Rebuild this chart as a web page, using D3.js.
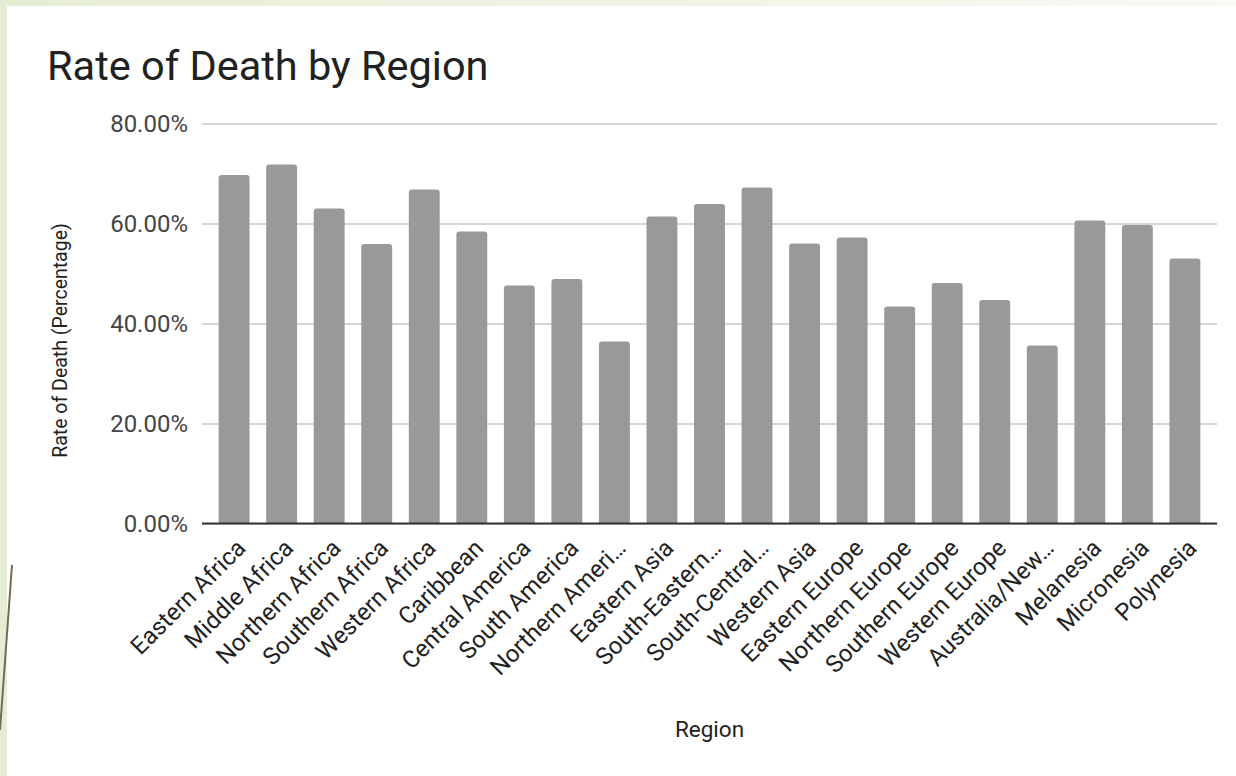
<!DOCTYPE html>
<html>
<head>
<meta charset="utf-8">
<script src="https://cdn.jsdelivr.net/npm/d3@7"></script>
<style>
  html, body { margin: 0; padding: 0; background: #e6edd5; }
  svg { display: block; }
</style>
</head>
<body>
<div id="chart"></div>
<script>
// data
const regions = [
  "Eastern Africa", "Middle Africa", "Northern Africa", "Southern Africa", "Western Africa",
  "Caribbean", "Central America", "South America", "Northern Ameri…", "Eastern Asia",
  "South-Eastern…", "South-Central…", "Western Asia", "Eastern Europe", "Northern Europe",
  "Southern Europe", "Western Europe", "Australia/New…", "Melanesia", "Micronesia", "Polynesia"
];
const deathRates = [
  0.697, 0.718, 0.630, 0.559, 0.668,
  0.584, 0.476, 0.489, 0.364, 0.614,
  0.639, 0.672, 0.560, 0.572, 0.434,
  0.481, 0.447, 0.356, 0.606, 0.597, 0.530
];
const yTicks = [0, 0.2, 0.4, 0.6, 0.8];

const width = 1236;
const height = 776;
const margin = { top: 123.5, right: 19, bottom: 252.5, left: 202 };

const data = regions.map((r, i) => ({ region: r, rate: deathRates[i] }));

const svg = d3.select("#chart")
  .append("svg")
  .attr("width", width)
  .attr("height", height);

// slide background + white card
const grad = svg.append("defs").append("linearGradient").attr("id", "topStrip");
grad.append("stop").attr("offset", "0%").attr("stop-color", "#e6edd5");
grad.append("stop").attr("offset", "100%").attr("stop-color", "#f8faf3");

svg.append("rect").attr("width", width).attr("height", height).attr("fill", "#e6edd5");
svg.append("rect").attr("x", 0).attr("y", 0).attr("width", width).attr("height", 6).attr("fill", "url(#topStrip)");
svg.append("rect")
  .attr("x", 7).attr("y", 6)
  .attr("width", width - 7).attr("height", height - 6)
  .attr("fill", "#ffffff");
svg.append("line")
  .attr("x1", 12).attr("y1", 565).attr("x2", 0).attr("y2", 730)
  .attr("stroke", "#736d52").attr("stroke-width", 2);

const x = d3.scaleBand()
  .domain(regions)
  .range([margin.left, width - margin.right])
  .paddingInner(0.35)
  .paddingOuter(0.35);

const y = d3.scaleLinear()
  .domain([0, 0.8])
  .range([height - margin.bottom, margin.top]);

// gridlines + y labels
const yAxis = svg.append("g")
  .attr("transform", `translate(${margin.left},0)`)
  .call(d3.axisLeft(y)
    .tickValues(yTicks)
    .tickSize(-(width - margin.left - margin.right))
    .tickPadding(14)
    .tickFormat(d3.format(".2%")));

yAxis.select(".domain").remove();
yAxis.selectAll(".tick line")
  .attr("stroke", "#d6d6d6")
  .attr("stroke-width", 2);
yAxis.selectAll(".tick text")
  .attr("fill", "#444")
  .attr("font-family", "Roboto, sans-serif")
  .attr("font-size", 24);

// bars, top corners rounded
const r = 3;
svg.append("g")
  .selectAll("path")
  .data(data)
  .join("path")
  .attr("fill", "#999999")
  .attr("d", d => {
    const x0 = x(d.region), x1 = x0 + x.bandwidth();
    const y0 = y(0), y1 = y(d.rate);
    return `M${x0},${y0}V${y1 + r}Q${x0},${y1} ${x0 + r},${y1}H${x1 - r}Q${x1},${y1} ${x1},${y1 + r}V${y0}Z`;
  });

// baseline
svg.append("line")
  .attr("x1", margin.left).attr("x2", width - margin.right)
  .attr("y1", y(0)).attr("y2", y(0))
  .attr("stroke", "#333").attr("stroke-width", 2);

// x labels, rotated
const xAxis = svg.append("g")
  .attr("transform", `translate(0,${y(0)})`)
  .call(d3.axisBottom(x).tickSize(0).tickPadding(0));
xAxis.select(".domain").remove();
xAxis.selectAll(".tick text")
  .attr("fill", "#222")
  .attr("font-family", "Roboto, sans-serif")
  .attr("font-size", 24)
  .attr("text-anchor", "end")
  .attr("dy", 0)
  .attr("transform", "translate(13,26) rotate(-45)");

// titles
svg.append("text")
  .attr("x", 47).attr("y", 80)
  .attr("font-family", "Roboto, sans-serif")
  .attr("font-size", 41.5)
  .attr("fill", "#212121")
  .text("Rate of Death by Region");

svg.append("text")
  .attr("transform", `translate(67,${(margin.top + y(0)) / 2 + 17}) rotate(-90)`)
  .attr("text-anchor", "middle")
  .attr("font-family", "Roboto, sans-serif")
  .attr("font-size", 19.5)
  .attr("fill", "#222")
  .text("Rate of Death (Percentage)");

svg.append("text")
  .attr("x", (margin.left + width - margin.right) / 2)
  .attr("y", 737)
  .attr("text-anchor", "middle")
  .attr("font-family", "Roboto, sans-serif")
  .attr("font-size", 22.5)
  .attr("fill", "#222")
  .text("Region");
</script>
</body>
</html>
